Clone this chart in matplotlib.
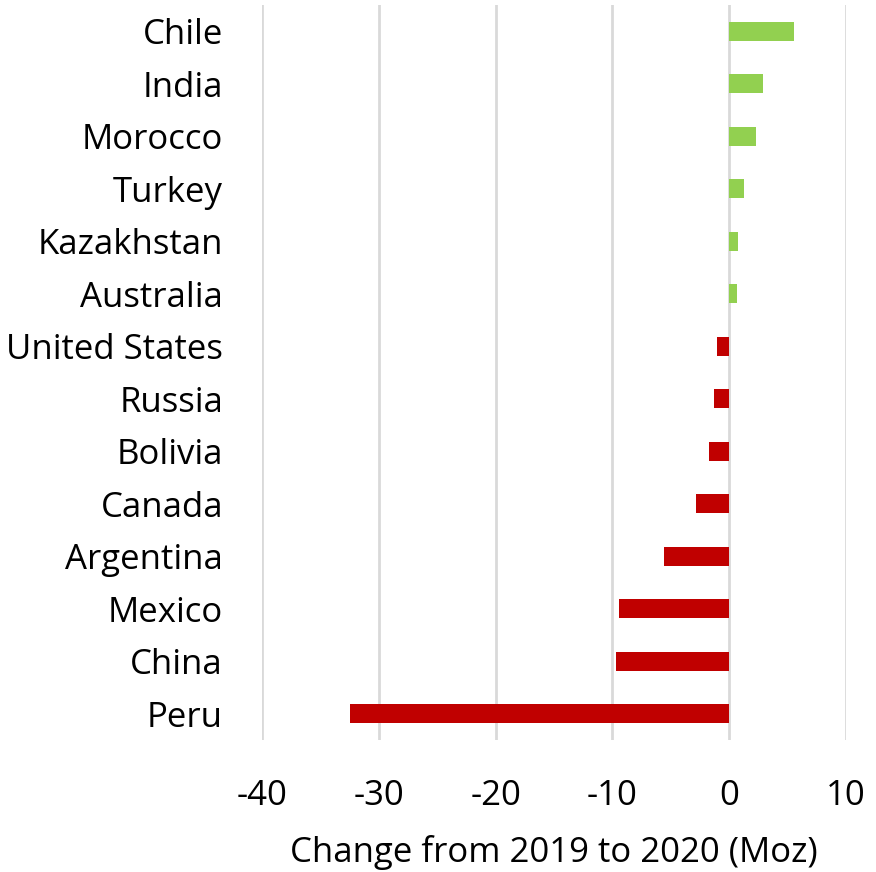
import matplotlib
matplotlib.use("Agg")
import matplotlib.pyplot as plt

countries = ["Chile", "India", "Morocco", "Turkey", "Kazakhstan", "Australia",
             "United States", "Russia", "Bolivia", "Canada", "Argentina",
             "Mexico", "China", "Peru"]
changes = [5.55, 2.9, 2.3, 1.28, 0.77, 0.68, -1.05, -1.3, -1.75, -2.85, -5.55,
           -9.45, -9.65, -32.5]
xticks = [-40, -30, -20, -10, 0, 10]
xlabel = "Change from 2019 to 2020 (Moz)"

plt.rcParams['font.family'] = ['Open Sans', 'DejaVu Sans']

fig = plt.figure(figsize=(8.76, 8.72), dpi=100)
ax = fig.add_axes([262/876, 1-740/872, 584/876, 735/872])

colors = ["#92d050" if v > 0 else "#c00000" for v in changes]
y = list(range(len(countries)))
ax.barh(y, changes, height=0.36, color=colors, zorder=3)
ax.set_yticks(y)
ax.set_yticklabels(countries, fontsize=25)
ax.set_ylim(len(countries) - 0.5, -0.5)
ax.set_xlim(-40, 10)
ax.set_xticks(xticks)
ax.set_xticklabels([str(t) for t in xticks], fontsize=25)
ax.xaxis.grid(True, color="#d9d9d9", linewidth=2, zorder=0)
ax.set_axisbelow(True)
for s in ax.spines.values():
    s.set_visible(False)
ax.tick_params(axis='both', length=0)
ax.tick_params(axis='x', pad=28)
ax.tick_params(axis='y', pad=28)
ax.set_xlabel(xlabel, fontsize=25, labelpad=16)

fig.savefig("out.png", dpi=100)
